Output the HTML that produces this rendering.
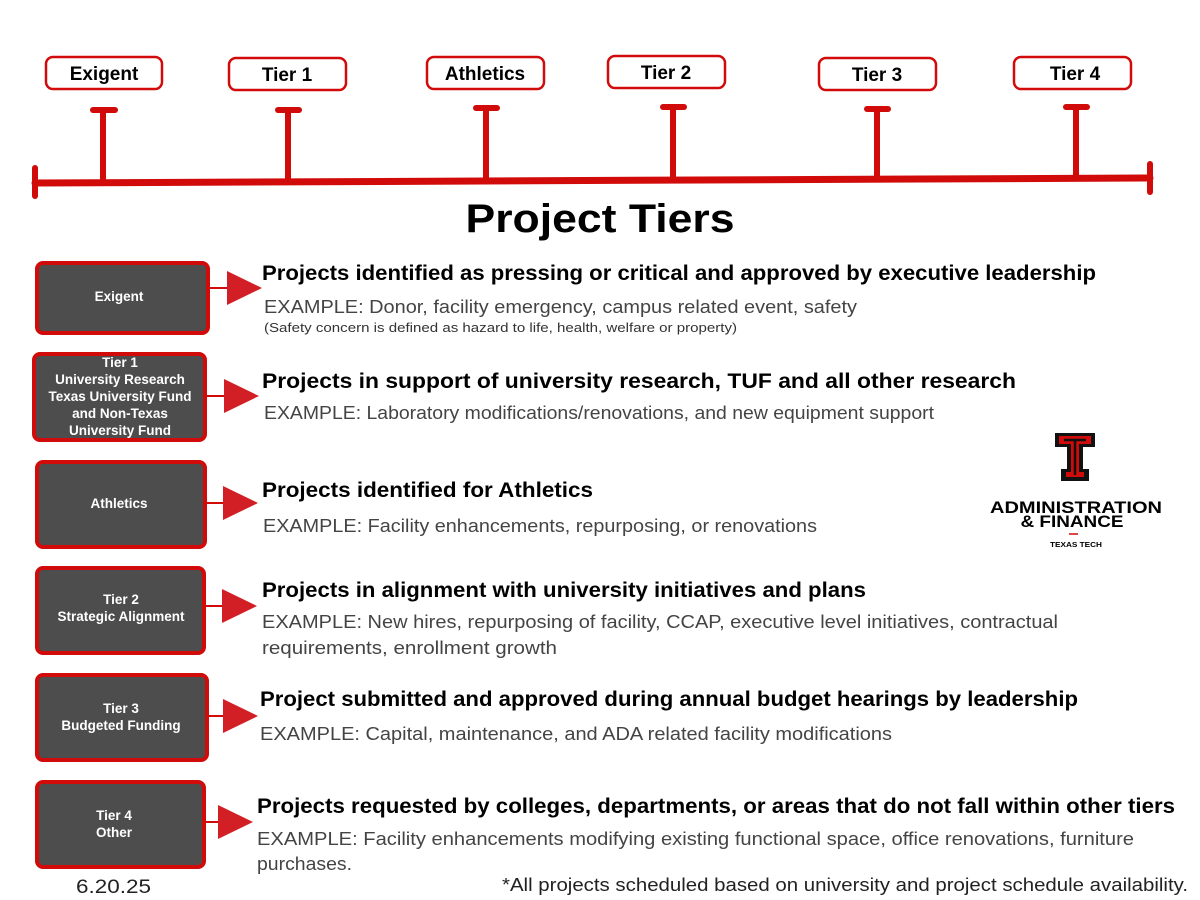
<!DOCTYPE html>
<html><head><meta charset="utf-8"><style>
html,body{margin:0;padding:0;background:#fff}
svg{display:block}
text{font-family:"Liberation Sans",sans-serif}
.h{font-weight:bold;font-size:21px;fill:#000}
.e{font-size:18px;fill:#444}
.b{font-weight:bold;font-size:13.5px;fill:#fff}
.l{font-weight:bold;font-size:19px;fill:#000}
</style></head><body>
<svg width="1200" height="900" viewBox="0 0 1200 900" xmlns="http://www.w3.org/2000/svg">
<!-- timeline -->
<g stroke="#d10a0a" stroke-linecap="round" fill="none">
<line x1="35" y1="183" x2="1150" y2="178" stroke-width="7"/>
<line x1="35" y1="168" x2="35" y2="196" stroke-width="6"/>
<line x1="1150" y1="164" x2="1150" y2="192" stroke-width="6"/>
<g stroke-width="6">
<line x1="103" y1="110" x2="103" y2="182"/><line x1="93" y1="110" x2="115" y2="110"/>
<line x1="288" y1="110" x2="288" y2="181"/><line x1="278" y1="110" x2="299" y2="110"/>
<line x1="486" y1="108" x2="486" y2="180"/><line x1="476" y1="108" x2="497" y2="108"/>
<line x1="673" y1="107" x2="673" y2="180"/><line x1="663" y1="107" x2="684" y2="107"/>
<line x1="877" y1="109" x2="877" y2="179"/><line x1="867" y1="109" x2="888" y2="109"/>
<line x1="1076" y1="107" x2="1076" y2="178"/><line x1="1066" y1="107" x2="1087" y2="107"/>
</g>
<g stroke-width="2.5">
<rect x="46" y="57" width="116" height="32" rx="7"/>
<rect x="229" y="58" width="117" height="32" rx="7"/>
<rect x="427" y="57" width="117" height="32" rx="7"/>
<rect x="608" y="56" width="117" height="32" rx="7"/>
<rect x="819" y="58" width="117" height="32" rx="7"/>
<rect x="1014" y="57" width="117" height="32" rx="7"/>
</g>
</g>
<g text-anchor="middle">
<text class="l" x="104" y="80">Exigent</text>
<text class="l" x="287" y="81">Tier 1</text>
<text class="l" x="485" y="80">Athletics</text>
<text class="l" x="666" y="79">Tier 2</text>
<text class="l" x="877" y="81">Tier 3</text>
<text class="l" x="1075" y="80">Tier 4</text>
</g>
<text x="600" y="232" text-anchor="middle" font-weight="bold" font-size="40" textLength="269" lengthAdjust="spacingAndGlyphs">Project Tiers</text>

<!-- left boxes -->
<g fill="#4d4d4d" stroke="#d10a0a" stroke-width="4">
<rect x="37" y="263" width="171" height="70" rx="6"/>
<rect x="34" y="354" width="171" height="86" rx="6"/>
<rect x="37" y="462" width="168" height="85" rx="6"/>
<rect x="37" y="568" width="167" height="85" rx="6"/>
<rect x="37" y="675" width="170" height="85" rx="6"/>
<rect x="37" y="782" width="167" height="85" rx="6"/>
</g>
<g stroke="#d10a0a" stroke-width="2">
<line x1="210" y1="288" x2="230" y2="288"/>
<line x1="207" y1="396" x2="228" y2="396"/>
<line x1="207" y1="503" x2="228" y2="503"/>
<line x1="206" y1="606" x2="226" y2="606"/>
<line x1="209" y1="716" x2="228" y2="716"/>
<line x1="206" y1="822" x2="224" y2="822"/>
</g>
<g fill="#d21f26">
<polygon points="227,271 262,288 227,305"/>
<polygon points="224,379 259,396 224,413"/>
<polygon points="223,486 258,503 223,520"/>
<polygon points="222,589 257,606 222,623"/>
<polygon points="223,699 258,716 223,733"/>
<polygon points="218,805 253,822 218,839"/>
</g>
<g text-anchor="middle" class="b">
<text class="b" x="119" y="301">Exigent</text>
<text class="b" x="120" y="367">Tier 1</text>
<text class="b" x="120" y="384">University Research</text>
<text class="b" x="120" y="401">Texas University Fund</text>
<text class="b" x="120" y="418">and Non-Texas</text>
<text class="b" x="120" y="435">University Fund</text>
<text class="b" x="119" y="508">Athletics</text>
<text class="b" x="121" y="604">Tier 2</text>
<text class="b" x="121" y="621">Strategic Alignment</text>
<text class="b" x="121" y="713">Tier 3</text>
<text class="b" x="121" y="730">Budgeted Funding</text>
<text class="b" x="114" y="820">Tier 4</text>
<text class="b" x="114" y="837">Other</text>
</g>

<!-- descriptions -->
<text class="h" x="262" y="280" textLength="834" lengthAdjust="spacingAndGlyphs">Projects identified as pressing or critical and approved by executive leadership</text>
<text class="e" x="264" y="313" textLength="593" lengthAdjust="spacingAndGlyphs">EXAMPLE: Donor, facility emergency, campus related event, safety</text>
<text x="264" y="332" font-size="13" fill="#333" textLength="473" lengthAdjust="spacingAndGlyphs">(Safety concern is defined as hazard to life, health, welfare or property)</text>

<text class="h" x="262" y="388" textLength="754" lengthAdjust="spacingAndGlyphs">Projects in support of university research, TUF and all other research</text>
<text class="e" x="264" y="419" textLength="670" lengthAdjust="spacingAndGlyphs">EXAMPLE: Laboratory modifications/renovations, and new equipment support</text>

<text class="h" x="262" y="497" textLength="331" lengthAdjust="spacingAndGlyphs">Projects identified for Athletics</text>
<text class="e" x="263" y="532" textLength="554" lengthAdjust="spacingAndGlyphs">EXAMPLE: Facility enhancements, repurposing, or renovations</text>

<text class="h" x="262" y="597" textLength="604" lengthAdjust="spacingAndGlyphs">Projects in alignment with university initiatives and plans</text>
<text class="e" x="262" y="628" textLength="796" lengthAdjust="spacingAndGlyphs">EXAMPLE: New hires, repurposing of facility, CCAP, executive level initiatives, contractual</text>
<text class="e" x="262" y="654" textLength="295" lengthAdjust="spacingAndGlyphs">requirements, enrollment growth</text>

<text class="h" x="260" y="706" textLength="818" lengthAdjust="spacingAndGlyphs">Project submitted and approved during annual budget hearings by leadership</text>
<text class="e" x="260" y="740" textLength="632" lengthAdjust="spacingAndGlyphs">EXAMPLE: Capital, maintenance, and ADA related facility modifications</text>

<text class="h" x="257" y="813" textLength="918" lengthAdjust="spacingAndGlyphs">Projects requested by colleges, departments, or areas that do not fall within other tiers</text>
<text class="e" x="257" y="845" textLength="877" lengthAdjust="spacingAndGlyphs">EXAMPLE: Facility enhancements modifying existing functional space, office renovations, furniture</text>
<text class="e" x="257" y="870" textLength="95" lengthAdjust="spacingAndGlyphs">purchases.</text>

<text x="76" y="893" font-size="19" fill="#222" textLength="75" lengthAdjust="spacingAndGlyphs">6.20.25</text>
<text x="502" y="891" font-size="18" fill="#222" textLength="686" lengthAdjust="spacingAndGlyphs">*All projects scheduled based on university and project schedule availability.</text>

<!-- logo -->
<g transform="translate(1055,433)">
<path d="M0,0 H40 V14 H28 V36 H34 V48 H6 V36 H12 V14 H0 Z" fill="#111"/>
<path d="M4,3 H36 V11 H24 V39 H29 V44 H11 V39 H16 V11 H4 Z" fill="#d10a0a"/>
<path d="M9,7 H31 M20,7 V42" stroke="#111" stroke-width="2.5" fill="none"/>
</g>
<text x="1076" y="513" text-anchor="middle" font-weight="bold" font-size="17" textLength="172" lengthAdjust="spacingAndGlyphs">ADMINISTRATION</text>
<text x="1072" y="527" text-anchor="middle" font-weight="bold" font-size="17" textLength="103" lengthAdjust="spacingAndGlyphs">&amp; FINANCE</text>
<line x1="1069" y1="534" x2="1078" y2="534" stroke="#d10a0a" stroke-width="1.5"/>
<text x="1076" y="547" text-anchor="middle" font-weight="bold" font-size="7.5" textLength="52" lengthAdjust="spacingAndGlyphs">TEXAS TECH</text>
</svg>
</body></html>
